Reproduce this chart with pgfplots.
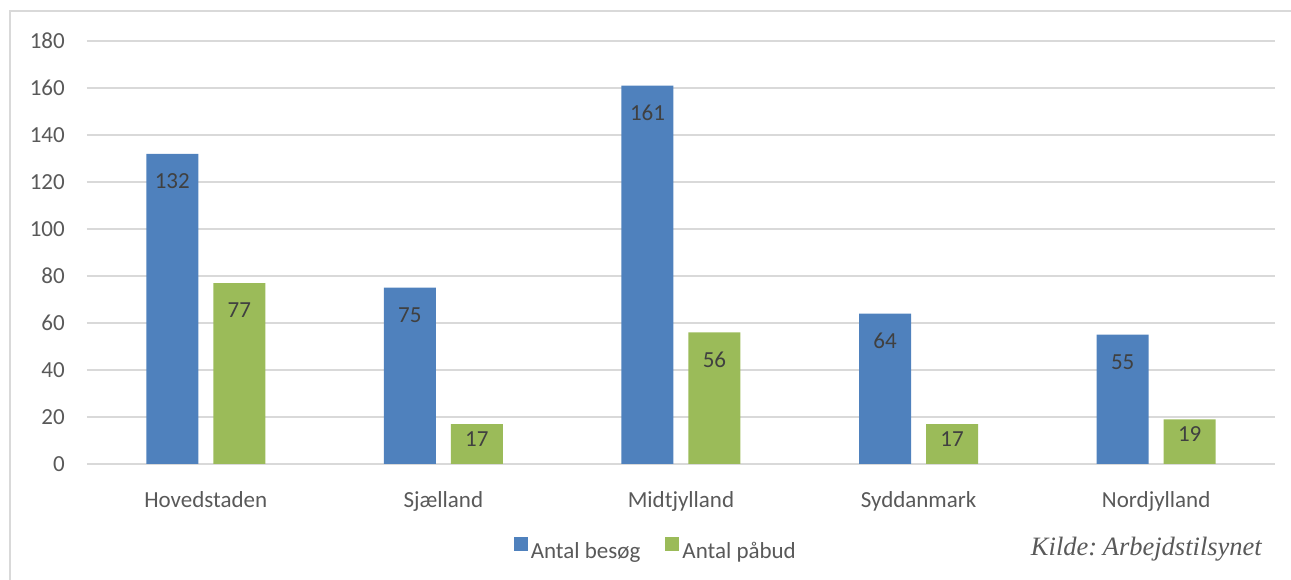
\documentclass[border=0pt]{standalone}
\usepackage{pgfplots}
\pgfplotsset{compat=1.18}
\usepackage{pgfplotstable}
\usepackage{fontspec}
\setmainfont{Carlito}
\newfontfamily\kildefont{Liberation Serif}
\definecolor{besog}{HTML}{4F81BD}
\definecolor{pabud}{HTML}{9BBB59}
\definecolor{gridgray}{HTML}{D9D9D9}
\definecolor{txtgray}{HTML}{595959}
\definecolor{lblgray}{HTML}{404040}

\pgfplotstableread{
x besog pabud
0 132 77
1 75  17
2 161 56
3 64  17
4 55  19
}\regioner

\newcommand\chartfont{\fontsize{23}{27}\selectfont}

\begin{document}
\begin{tikzpicture}[x=1pt,y=1pt]
\path[use as bounding box] (-87,-116) rectangle (1204,464);
\draw[gridgray, line width=1.3pt] (-77,-130) -- (-77,453) -- (1220,453);
\begin{axis}[
  scale only axis, width=1188pt, height=423pt,
  ybar=15pt, bar width=52pt,
  xmin=-0.5, xmax=4.5, ymin=0, ymax=180,
  xtick={0,1,2,3,4},
  xticklabels={Hovedstaden,Sjælland,Midtjylland,Syddanmark,Nordjylland},
  ytick={0,20,...,180},
  /pgf/number format/assume math mode=true,
  axis x line*=bottom, axis y line*=left,
  x axis line style={gridgray, line width=1.3pt, -},
  y axis line style={draw=none},
  tick style={draw=none},
  ymajorgrids, major grid style={gridgray, line width=1.3pt},
  tick label style={font=\chartfont, text=txtgray, inner sep=0pt},
  yticklabel style={anchor=east, xshift=-22pt},
  xticklabel style={anchor=base, yshift=-39pt},
  visualization depends on={rawy \as \v},
  nodes near coords,
  every node near coord/.append style={font=\chartfont, text=lblgray, anchor=center,
    yshift={(\v>30) ? -27pt : -15pt}},
  legend columns=2,
  legend style={at={(0.478,-0.2)}, anchor=center, draw=none, fill=none,
    font=\chartfont, text=txtgray, inner sep=0pt, nodes={inner sep=0pt},
    /tikz/every odd column/.append style={column sep=3pt},
    /tikz/every even column/.append style={column sep=25pt}},
  legend image code/.code={\fill[#1,/tikz/.cd] (0pt,-0.5pt) rectangle (14pt,13.5pt);},
]
\addplot[fill=besog, draw=none] table[x=x, y=besog]{\regioner};
\addplot[fill=pabud, draw=none] table[x=x, y=pabud]{\regioner};
\legend{Antal besøg, Antal påbud}
\end{axis}
\node[anchor=base east, inner sep=0pt, text=txtgray, font={\kildefont\itshape\fontsize{26.5}{30}\selectfont}]
  at (1175,-92) {Kilde:\kern-1pt\ Arbejdstilsynet};
\end{tikzpicture}
\end{document}
